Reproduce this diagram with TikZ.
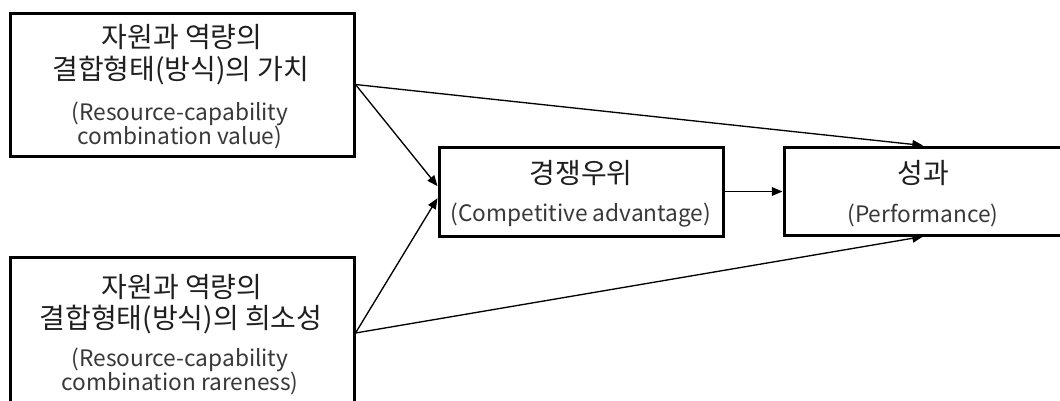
\documentclass[tikz,border=0pt]{standalone}
\usepackage{fontspec}
\newfontfamily\kr{Noto Sans CJK KR}
\usetikzlibrary{arrows.meta}
\begin{document}
\begin{tikzpicture}[x=0.75pt,y=-0.75pt,
  box/.style={draw=black,line width=2.25pt,rectangle,inner sep=0pt},
  kor/.style={font=\kr\fontsize{21}{25}\selectfont,text=black!88,inner sep=0pt,anchor=center},
  eng/.style={font=\kr\fontsize{17}{20}\selectfont,text=black!78,inner sep=0pt,anchor=center},
  arr/.style={line width=1pt,-{Triangle[length=8pt,width=6.5pt]}}]
\useasboundingbox (0,0) rectangle (1060,400);
\clip (0,0) rectangle (1060,400);
% boxes
\node[box,minimum width=344*0.75pt,minimum height=143*0.75pt] (A) at (182,84.5) {};
\node[box,minimum width=344*0.75pt,minimum height=152*0.75pt] (B) at (182,333) {};
\node[box,minimum width=284*0.75pt,minimum height=89*0.75pt] (C) at (581,191.5) {};
\node[box,minimum width=278*0.75pt,minimum height=88*0.75pt] (D) at (923,191) {};
% texts
\node[kor] (a1) at (182,37) {자원과 역량의};
\node[kor] (a2) at (181,71) {결합형태(방식)의 가치};
\node[eng] (a3) at (180,114) {(Resource-capability};
\node[eng] (a4) at (180,137) {combination value)};
\node[kor] (b1) at (182,287) {자원과 역량의};
\node[kor] (b2) at (181,320) {결합형태(방식)의 희소성};
\node[eng] (b3) at (180,360) {(Resource-capability};
\node[eng] (b4) at (180,383) {combination rareness)};
\node[kor] (c1) at (581,173) {경쟁우위};
\node[eng] (c2) at (581,215) {(Competitive advantage)};
\node[kor] (d1) at (923,173) {성과};
\node[eng] (d2) at (923,215) {(Performance)};
% connectors
\draw[arr] (A.east) -- ([yshift=4pt]C.west);
\draw[arr] (B.east) -- ([yshift=-5pt]C.west);
\draw[arr] (A.east) -- (D.north);
\draw[arr] (B.east) -- (D.south);
\draw[arr] (C.east) -- (D.west|-C.east);
\end{tikzpicture}
\end{document}
